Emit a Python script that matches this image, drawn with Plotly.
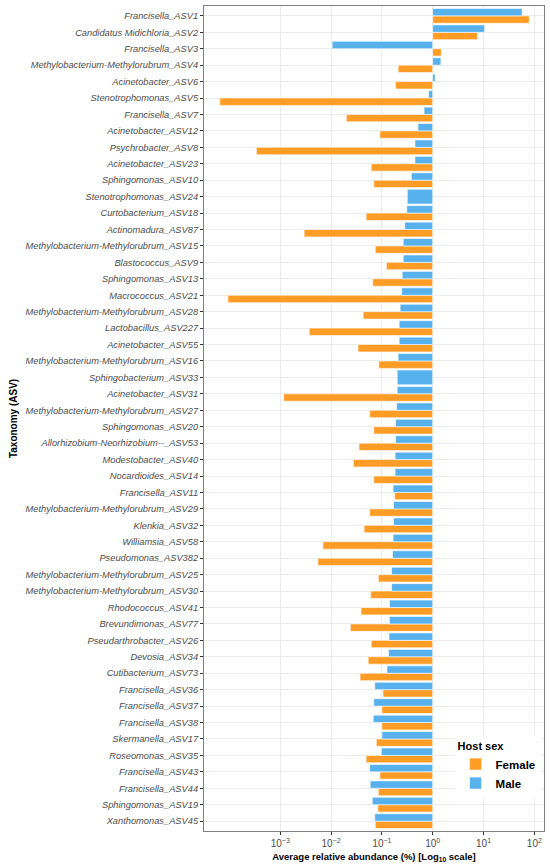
import plotly.graph_objects as go

taxa = [
    "Francisella_ASV1", "Candidatus Midichloria_ASV2", "Francisella_ASV3",
    "Methylobacterium-Methylorubrum_ASV4", "Acinetobacter_ASV6", "Stenotrophomonas_ASV5",
    "Francisella_ASV7", "Acinetobacter_ASV12", "Psychrobacter_ASV8", "Acinetobacter_ASV23",
    "Sphingomonas_ASV10", "Stenotrophomonas_ASV24", "Curtobacterium_ASV18",
    "Actinomadura_ASV87", "Methylobacterium-Methylorubrum_ASV15", "Blastococcus_ASV9",
    "Sphingomonas_ASV13", "Macrococcus_ASV21", "Methylobacterium-Methylorubrum_ASV28",
    "Lactobacillus_ASV227", "Acinetobacter_ASV55", "Methylobacterium-Methylorubrum_ASV16",
    "Sphingobacterium_ASV33", "Acinetobacter_ASV31", "Methylobacterium-Methylorubrum_ASV27",
    "Sphingomonas_ASV20", "Allorhizobium-Neorhizobium--_ASV53", "Modestobacter_ASV40",
    "Nocardioides_ASV14", "Francisella_ASV11", "Methylobacterium-Methylorubrum_ASV29",
    "Klenkia_ASV32", "Williamsia_ASV58", "Pseudomonas_ASV382",
    "Methylobacterium-Methylorubrum_ASV25", "Methylobacterium-Methylorubrum_ASV30",
    "Rhodococcus_ASV41", "Brevundimonas_ASV77", "Pseudarthrobacter_ASV26",
    "Devosia_ASV34", "Cutibacterium_ASV73", "Francisella_ASV36", "Francisella_ASV37",
    "Francisella_ASV38", "Skermanella_ASV17", "Roseomonas_ASV35", "Francisella_ASV43",
    "Francisella_ASV44", "Sphingomonas_ASV19", "Xanthomonas_ASV45",
]

# average relative abundance (%), None = not detected
male = [
    57.5, 10.5, 0.0105, 1.45, 1.12, 0.83, 0.676, 0.513, 0.447, 0.447,
    0.380, 0.316, 0.309, 0.282, 0.263, 0.263, 0.251, 0.245, 0.229, 0.219,
    0.219, 0.209, 0.200, 0.200, 0.195, 0.186, 0.186, 0.182, 0.182, 0.166,
    0.170, 0.170, 0.166, 0.162, 0.155, 0.155, 0.141, 0.141, 0.138, 0.135,
    0.126, 0.0724, 0.0692, 0.0676, 0.100, 0.0977, 0.0575, 0.0589, 0.0646, 0.0724,
]
female = [
    79.4, 7.6, 1.48, 0.209, 0.186, 0.0000646, 0.0200, 0.0912, 0.000339, 0.0617,
    0.0692, None, 0.0490, 0.00295, 0.0741, 0.123, 0.0661, 0.0000933, 0.0427, 0.00372,
    0.0339, 0.0871, None, 0.00117, 0.0575, 0.0692, 0.0355, 0.0275, 0.0692, 0.178,
    0.0575, 0.0447, 0.00692, 0.00550, 0.0851, 0.0603, 0.0389, 0.0240, 0.0617, 0.0537,
    0.0372, 0.105, 0.100, 0.100, 0.0776, 0.0490, 0.0912, 0.0851, 0.0832, 0.0741,
]

tick_vals = [0.001, 0.01, 0.1, 1, 10, 100]
tick_text = ["10<sup>\u22123</sup>", "10<sup>\u22122</sup>", "10<sup>\u22121</sup>",
             "10<sup>0</sup>", "10<sup>1</sup>", "10<sup>2</sup>"]

MALE_COL = "#56B1EC"
FEMALE_COL = "#FF9C26"

# bars grow from 1 % (10^0) on the log axis, like ggplot's log10 scale
m_len = [v - 1 for v in male]
f_len = [(v - 1) if v is not None else None for v in female]
# male bar takes the full dodge width when the female value is missing
m_wid = [0.9 if f is None else 0.45 for f in female]

fig = go.Figure()
fig.add_trace(go.Bar(
    y=taxa, x=f_len, base=1, orientation="h", name="Female",
    marker=dict(color=FEMALE_COL, line=dict(color="white", width=0.6)),
    offset=0, width=0.45, legendrank=1,
))
fig.add_trace(go.Bar(
    y=taxa, x=m_len, base=1, orientation="h", name="Male",
    marker=dict(color=MALE_COL, line=dict(color="white", width=0.6)),
    offset=-0.45, width=m_wid, legendrank=2,
))

fig.update_layout(
    width=550, height=866,
    margin=dict(l=204, r=6, t=6, b=35),
    barmode="overlay", hovermode=False,
    plot_bgcolor="white", paper_bgcolor="white",
    font=dict(family="Liberation Sans, Arial, sans-serif", color="#4D4D4D"),
    legend=dict(
        title=dict(text="<b>Host sex</b>", font=dict(size=11, color="black")),
        font=dict(size=11.5, color="black", weight="bold"),
        x=0.99, y=0.116, xanchor="right", yanchor="top",
        bgcolor="white", itemwidth=30, tracegroupgap=0,
    ),
    annotations=[dict(
        text="<b>Taxonomy (ASV)</b>", textangle=-90,
        xref="paper", yref="paper", x=-0.56, y=0.5,
        xanchor="center", yanchor="middle", showarrow=False,
        font=dict(size=10, color="black"),
    )],
)
fig.update_xaxes(
    type="log", range=[-4.5, 2.19], automargin=False,
    tickvals=tick_vals, ticktext=tick_text,
    tickfont=dict(size=10, color="#4D4D4D"),
    ticks="outside", ticklen=3, tickcolor="#333333",
    showgrid=True, gridcolor="#EBEBEB", gridwidth=1,
    showline=True, linecolor="#7F7F7F", mirror=True, linewidth=1,
    zeroline=False,
    title=dict(text="<b>Average relative abundance (%) [Log<sub>10</sub> scale]</b>",
               font=dict(size=9.5, color="black"), standoff=5),
)
fig.update_yaxes(
    categoryorder="array", categoryarray=taxa,
    range=[len(taxa) - 0.4, -0.6], automargin=False,
    tickvals=taxa, ticktext=["<i>" + t + "</i>" for t in taxa],
    tickfont=dict(size=9.3, color="#4D4D4D"),
    ticks="outside", ticklen=3, tickcolor="#333333",
    showgrid=True, gridcolor="#EBEBEB", gridwidth=1,
    showline=True, linecolor="#7F7F7F", mirror=True, linewidth=1,
)

# drop the default 8px body margin so the figure sits at the page corner
fig.write_html("out.html", config={"displayModeBar": False},
               post_script="document.body.style.margin='0';")
